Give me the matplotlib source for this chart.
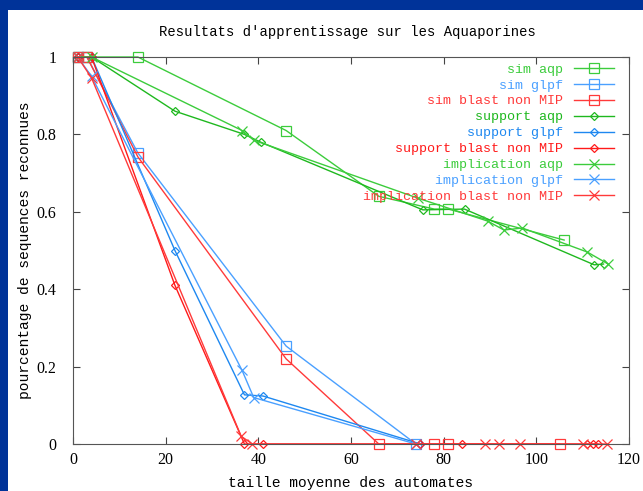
import matplotlib
matplotlib.use("Agg")
import matplotlib.pyplot as plt
from matplotlib.patches import Rectangle

# data
sim_aqp_x = [1, 3, 14, 46, 66, 78, 81, 106]
sim_aqp_y = [1, 1, 1, 0.81, 0.64, 0.607, 0.607, 0.527]
sim_glpf_x = [1, 3, 14, 46, 74]
sim_glpf_y = [1, 1, 0.752, 0.253, 0]
sim_blast_x = [1, 3, 14, 46, 66, 78, 81, 105]
sim_blast_y = [1, 1, 0.742, 0.22, 0, 0, 0, 0]

support_aqp_x = [1, 4, 22, 37, 40.5, 75.5, 84.5, 112.5, 114.5]
support_aqp_y = [1, 1, 0.86, 0.80, 0.78, 0.605, 0.607, 0.463, 0.465]
support_glpf_x = [1, 4, 22, 37, 41, 75]
support_glpf_y = [1, 1, 0.50, 0.127, 0.124, 0]
support_blast_x = [1, 4, 22, 37, 41, 75, 84, 111, 112.3, 113.3]
support_blast_y = [1, 1, 0.41, 0, 0, 0, 0, 0, 0, 0]

impl_aqp_x = [1, 4, 36.5, 39, 74.5, 89.5, 93, 97, 111, 115.5]
impl_aqp_y = [1, 1, 0.81, 0.785, 0.635, 0.576, 0.553, 0.558, 0.496, 0.465]
impl_glpf_x = [1, 4, 36.5, 39, 74]
impl_glpf_y = [1, 0.95, 0.19, 0.12, 0]
impl_blast_x = [1, 4, 36.3, 38.7, 74, 89, 92, 96.5, 110, 115.2]
impl_blast_y = [1, 0.946, 0.02, 0, 0, 0, 0, 0, 0, 0]

GREEN = '#3ccc3c'
GREEN2 = '#1fb81f'
BLUE = '#4aa0ff'
BLUE2 = '#1e88f0'
RED = '#ff3a3a'
RED2 = '#ff1a1a'

series = [
    ("sim aqp", sim_aqp_x, sim_aqp_y, GREEN, 's', 7),
    ("sim glpf", sim_glpf_x, sim_glpf_y, BLUE, 's', 7),
    ("sim blast non MIP", sim_blast_x, sim_blast_y, RED, 's', 7),
    ("support aqp", support_aqp_x, support_aqp_y, GREEN2, 'D', 4.5),
    ("support glpf", support_glpf_x, support_glpf_y, BLUE2, 'D', 4.5),
    ("support blast non MIP", support_blast_x, support_blast_y, RED2, 'D', 4.5),
    ("implication aqp", impl_aqp_x, impl_aqp_y, GREEN, 'x', 7),
    ("implication glpf", impl_glpf_x, impl_glpf_y, BLUE, 'x', 7),
    ("implication blast non MIP", impl_blast_x, impl_blast_y, RED, 'x', 7),
]

plt.rcParams['font.family'] = ['Liberation Mono', 'DejaVu Sans Mono']
plt.rcParams['font.size'] = 10

fig = plt.figure(figsize=(6.43, 4.91), dpi=100, facecolor='#003399')
# white page on the blue background
fig.patches.append(Rectangle((8 / 643, 0), 1, 1 - 10 / 491, transform=fig.transFigure,
                             facecolor='white', edgecolor='none', zorder=-5))

ax = fig.add_axes([73 / 643, 1 - 444 / 491, 556 / 643, 387 / 491])
ax.set_facecolor('white')
ax.set_zorder(2)

for label, x, y, c, m, ms in series:
    ax.plot(x, y, color=c, linewidth=1, marker=m, markersize=ms,
            markerfacecolor='none', markeredgecolor=c, markeredgewidth=0.9,
            label=label, clip_on=False)

ax.set_xlim(0, 120)
ax.set_ylim(0, 1)
ax.set_xticks([0, 20, 40, 60, 80, 100, 120])
ax.set_yticks([0, 0.2, 0.4, 0.6, 0.8, 1])
ax.set_yticklabels(['0', '0.2', '0.4', '0.6', '0.8', '1'])
ax.tick_params(direction='in', length=5, top=True, right=True, labelsize=11.5,
               color='#444444')
ax.tick_params(axis='y', pad=12)
ax.tick_params(axis='x', pad=6)
for lab in ax.get_xticklabels() + ax.get_yticklabels():
    lab.set_fontfamily('Liberation Serif')
for s in ax.spines.values():
    s.set_color('#555555')

ax.set_xlabel("taille moyenne des automates", fontsize=10.5)
ax.set_ylabel("pourcentage de sequences reconnues", fontsize=10.5)
ax.xaxis.set_label_coords(0.5, -(476 - 444) / 387)
ax.yaxis.set_label_coords(-(73 - 32) / 556, 0.5)
fig.text(0.54, 1 - 32 / 491, "Resultats d'apprentissage sur les Aquaporines",
         ha='center', va='center', fontsize=10, zorder=3)

leg = ax.legend(loc='upper right', bbox_to_anchor=(0.99, 1.008), frameon=False,
                markerfirst=False, labelcolor='linecolor', fontsize=9.6,
                handlelength=3.0, labelspacing=0.27, borderaxespad=0.3,
                handletextpad=0.8)

fig.savefig("out.png", dpi=100, facecolor=fig.get_facecolor())
